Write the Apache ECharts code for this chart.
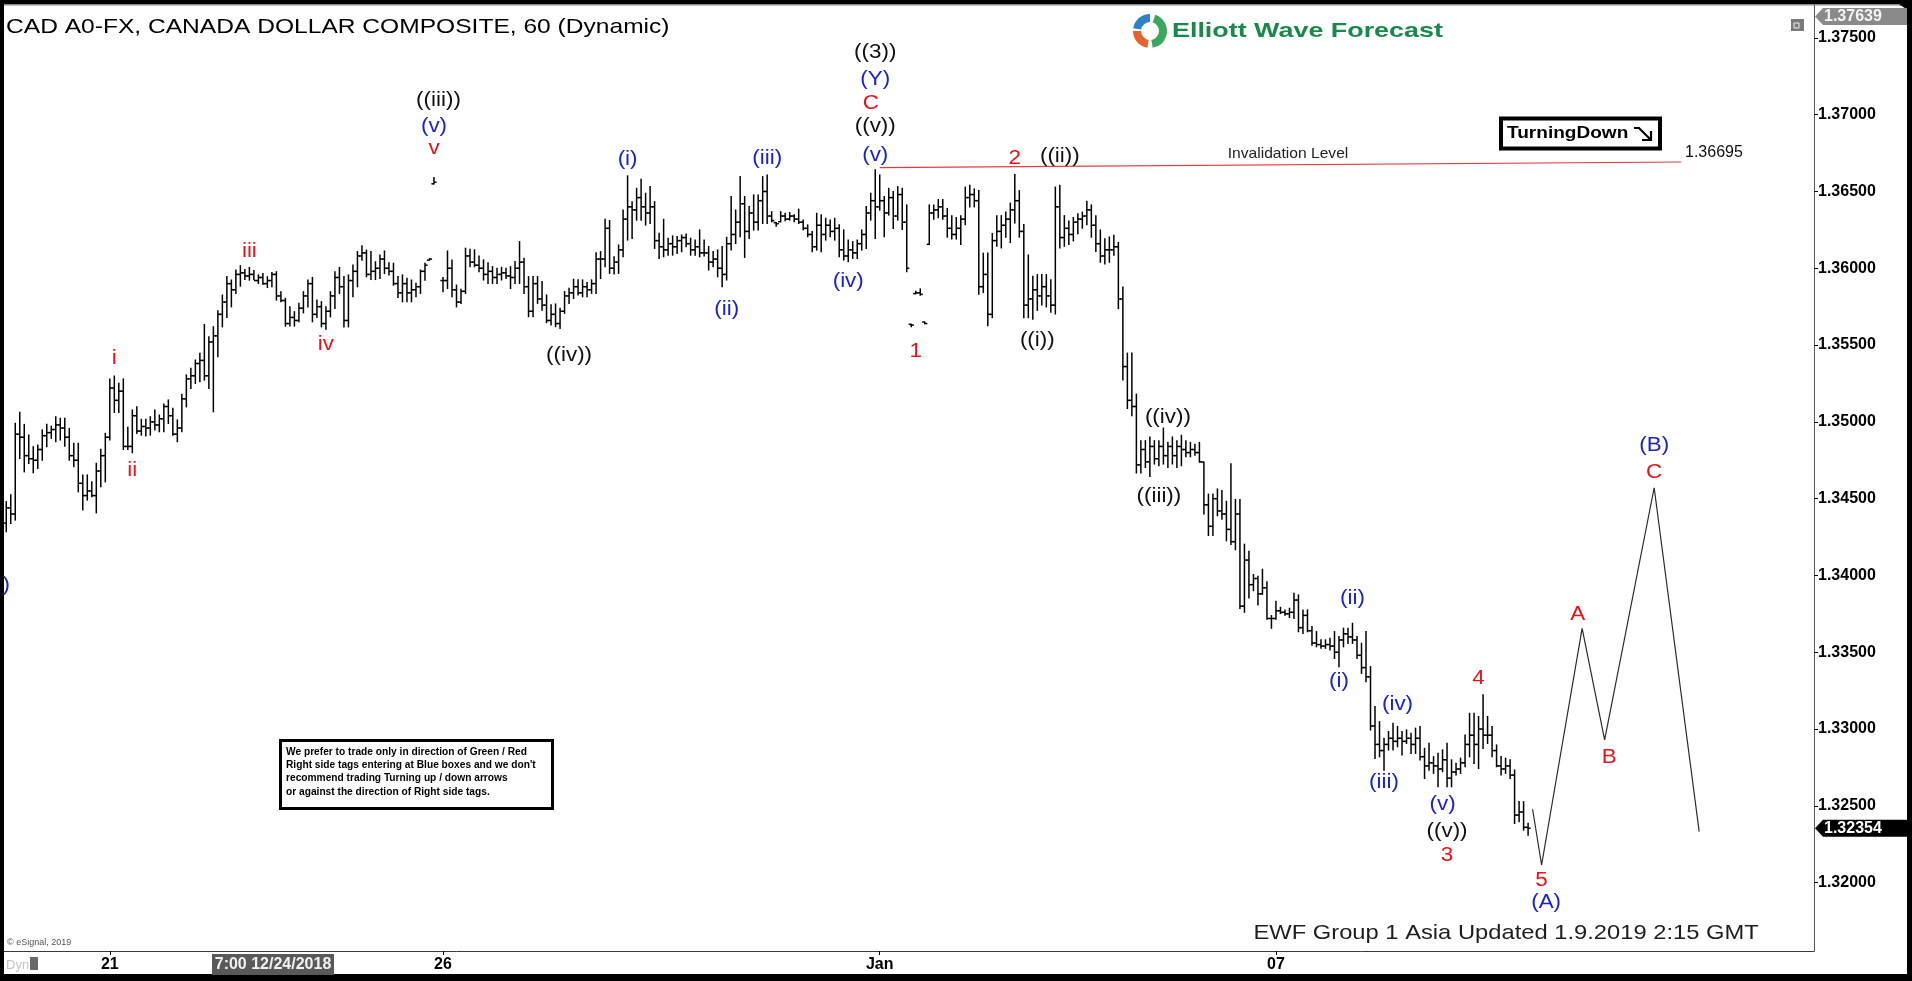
<!DOCTYPE html>
<html>
<head>
<meta charset="utf-8">
<script src="https://cdn.jsdelivr.net/npm/echarts@6/dist/echarts.min.js"></script>
<style>
html, body { margin: 0; padding: 0; background: #000; }
#chart { width: 1912px; height: 981px; }
</style>
</head>
<body>
<div id="chart"></div>
<script>
// hourly bars, CAD A0-FX (null = empty slot)
const highs = [
  1.34480,1.34524,1.34990,1.35062,1.34983,1.34914,1.34838,1.34849,1.34947,1.34983,
  1.34972,1.35033,1.35023,1.35023,1.34957,1.34860,1.34860,1.34654,1.34654,1.34610,
  1.34730,1.34821,1.34925,1.35279,1.35298,1.35250,1.35279,1.34964,1.35077,1.35098,
  1.35016,1.35016,1.35033,1.35077,1.35044,1.35116,1.35142,1.35088,1.35012,1.35179,
  1.35305,1.35348,1.35402,1.35446,1.35634,1.35554,1.35619,1.35723,1.35825,1.35945,
  1.35923,1.35988,1.36016,1.35992,1.36005,1.35984,1.35956,1.35966,1.35945,1.35971,
  1.35977,1.35847,1.35804,1.35749,1.35717,1.35771,1.35847,1.35923,1.35940,1.35793,
  1.35782,1.35749,1.35847,1.35977,1.36005,1.35945,1.35956,1.36021,1.36108,1.36146,
  1.36118,1.36108,1.36042,1.36086,1.36112,1.36036,1.36032,1.35945,1.35956,1.35934,
  1.35923,1.35901,1.35988,1.36032,1.36062,1.36590,null,1.35940,1.36112,1.36053,
  1.35890,1.35863,1.36130,1.36123,1.36119,1.36080,1.36054,1.36036,1.36010,1.35999,
  1.36006,1.35999,1.36010,1.36043,1.36173,1.36065,1.35945,1.35945,1.35945,1.35913,
  1.35826,1.35761,1.35767,1.35739,1.35848,1.35869,1.35928,1.35924,1.35924,1.35906,
  1.35924,1.36101,1.36108,1.36318,1.36310,1.36075,1.36151,1.36379,1.36601,1.36433,
  1.36520,1.36579,1.36488,1.36531,1.36433,1.36227,1.36318,1.36195,1.36210,1.36206,
  1.36216,1.36223,1.36195,1.36184,1.36249,1.36184,1.36141,1.36108,1.36119,1.36141,
  1.36201,1.36466,1.36379,1.36596,1.36466,1.36401,1.36477,1.36477,1.36596,1.36607,
  1.36368,1.36297,1.36368,1.36358,1.36362,1.36347,1.36384,1.36314,1.36282,1.36238,
  1.36358,1.36347,1.36325,1.36314,1.36325,1.36282,1.36249,1.36184,1.36173,1.36184,
  1.36249,1.36401,1.36488,1.36640,1.36607,1.36466,1.36520,1.36499,1.36531,1.36520,
  1.36412,1.35635,1.35850,1.35865,1.35650,1.36412,1.36412,1.36447,1.36447,1.36389,
  1.36342,1.36330,1.36342,1.36528,1.36540,1.36516,1.36505,1.36098,1.36098,1.36226,
  1.36342,1.36342,1.36365,1.36423,1.36609,1.36505,1.36284,1.36086,1.35947,1.35958,
  1.35958,1.35958,1.35924,1.36528,1.36540,1.36342,1.36307,1.36330,1.36354,1.36365,
  1.36435,1.36412,1.36342,1.36249,1.36191,1.36203,1.36214,1.36168,1.35877,1.35447,
  1.35447,1.35180,1.34877,1.34877,1.34901,1.34877,1.34877,1.34959,1.34866,1.34901,
  1.34877,1.34912,1.34877,1.34866,1.34854,1.34866,1.34738,1.34529,1.34529,1.34563,
  1.34552,1.34482,1.34726,1.34494,1.34494,1.34203,1.34157,1.34005,1.33994,1.34040,
  1.33959,1.33738,1.33831,1.33792,1.33775,1.33786,1.33884,1.33873,1.33775,1.33775,
  1.33667,1.33634,1.33580,1.33580,1.33591,1.33634,1.33602,1.33656,1.33656,1.33688,
  1.33602,1.33558,1.33634,1.33406,1.33146,1.33048,1.32940,1.32983,1.33037,1.33016,
  1.32983,1.32994,1.32972,1.33005,1.33016,1.32874,1.32907,1.32820,1.32842,1.32864,
  1.32907,1.32799,1.32777,1.32810,1.32961,1.33102,1.33102,1.33081,1.33222,1.33081,
  1.33016,1.32896,1.32820,1.32810,1.32799,1.32733,1.32527,1.32527,1.32386
]
const lows = [
  1.34285,1.34339,1.34361,1.34762,1.34675,1.34730,1.34669,1.34697,1.34751,1.34838,
  1.34892,1.34871,1.34882,1.34842,1.34751,1.34708,1.34545,1.34426,1.34491,1.34513,
  1.34408,1.34578,1.34610,1.34882,1.35062,1.35062,1.34821,1.34821,1.34799,1.34925,
  1.34914,1.34908,1.34914,1.34947,1.34936,1.34936,1.34990,1.34914,1.34871,1.34936,
  1.35098,1.35218,1.35250,1.35261,1.35272,1.35218,1.35066,1.35424,1.35619,1.35680,
  1.35749,1.35836,1.35884,1.35927,1.35923,1.35927,1.35901,1.35897,1.35875,1.35880,
  1.35793,1.35782,1.35624,1.35624,1.35624,1.35652,1.35710,1.35749,1.35652,1.35680,
  1.35619,1.35604,1.35684,1.35739,1.35836,1.35619,1.35619,1.35815,1.35880,1.36053,
  1.35945,1.35927,1.35927,1.35934,1.35966,1.35956,1.35890,1.35810,1.35782,1.35782,
  1.35782,1.35815,1.35836,1.35923,1.36053,1.36550,null,1.35847,1.35869,1.35815,
  1.35749,1.35772,1.35837,1.36010,1.36010,1.35978,1.35924,1.35902,1.35902,1.35902,
  1.35924,1.35934,1.35869,1.35902,1.35902,1.35837,1.35685,1.35685,1.35772,1.35728,
  1.35646,1.35631,1.35620,1.35609,1.35707,1.35772,1.35804,1.35826,1.35815,1.35815,
  1.35837,1.35837,1.35934,1.36010,1.35967,1.35963,1.35967,1.36075,1.36184,1.36195,
  1.36314,1.36314,1.36282,1.36292,1.36130,1.36065,1.36075,1.36086,1.36086,1.36097,
  1.36108,1.36141,1.36086,1.36086,1.36075,1.36080,1.35989,1.36010,1.35945,1.35880,
  1.35924,1.36119,1.36162,1.36206,1.36071,1.36195,1.36249,1.36249,1.36292,1.36292,
  1.36303,1.36275,1.36303,1.36310,1.36314,1.36303,1.36292,1.36249,1.36206,1.36108,
  1.36119,1.36108,1.36184,1.36206,1.36184,1.36075,1.36054,1.36043,1.36065,1.36065,
  1.36119,1.36130,1.36314,1.36195,1.36379,1.36206,1.36347,1.36260,1.36314,1.36253,
  1.35978,1.35620,1.35835,1.35825,1.35640,1.36156,1.36319,1.36330,1.36319,1.36203,
  1.36191,1.36191,1.36156,1.36284,1.36400,1.36400,1.35831,1.35842,1.35626,1.35679,
  1.36144,1.36133,1.36203,1.36168,1.36296,1.36203,1.35679,1.35679,1.35668,1.35726,
  1.35761,1.35749,1.35714,1.35703,1.36133,1.36144,1.36156,1.36179,1.36226,1.36261,
  1.36284,1.36203,1.36110,1.36040,1.36028,1.36040,1.36086,1.35738,1.35273,1.35087,
  1.35040,1.34668,1.34668,1.34703,1.34645,1.34726,1.34715,1.34726,1.34703,1.34726,
  1.34703,1.34715,1.34773,1.34773,1.34784,1.34738,1.34401,1.34261,1.34261,1.34389,
  1.34366,1.34226,1.34203,1.34168,1.33785,1.33761,1.33854,1.33901,1.33808,1.33878,
  1.33715,1.33657,1.33715,1.33753,1.33742,1.33727,1.33721,1.33634,1.33623,1.33634,
  1.33547,1.33536,1.33526,1.33526,1.33515,1.33460,1.33406,1.33536,1.33558,1.33558,
  1.33460,1.33363,1.33308,1.32994,1.32809,1.32820,1.32733,1.32864,1.32864,1.32885,
  1.32831,1.32907,1.32842,1.32842,1.32799,1.32679,1.32733,1.32712,1.32625,1.32723,
  1.32625,1.32625,1.32701,1.32712,1.32755,1.32820,1.32777,1.32744,1.32874,1.32907,
  1.32820,1.32755,1.32701,1.32712,1.32679,1.32386,1.32397,1.32343,1.32310
]
const closes = [
  1.3444,1.3440,1.3492,1.3490,1.3478,1.3476,1.3475,1.3482,1.3491,1.3493,
  1.3495,1.3498,1.3496,1.3490,1.3478,1.3475,1.3460,1.3452,1.3455,1.3452,
  1.3468,1.3478,1.3490,1.3522,1.3514,1.3520,1.3484,1.3484,1.3504,1.3494,
  1.3497,1.3496,1.3500,1.3498,1.3502,1.3510,1.3504,1.3492,1.3496,1.3515,
  1.3528,1.3530,1.3538,1.3540,1.3530,1.3552,1.3556,1.3570,1.3578,1.3590,
  1.3586,1.3596,1.3597,1.3595,1.3596,1.3592,1.3594,1.3590,1.3592,1.3596,
  1.3582,1.3579,1.3564,1.3568,1.3566,1.3574,1.3582,1.3590,1.3570,1.3575,
  1.3564,1.3572,1.3582,1.3594,1.3588,1.3566,1.3592,1.3598,1.3608,1.3610,
  1.3596,1.3598,1.3600,1.3606,1.3600,1.3598,1.3590,1.3584,1.3590,1.3584,
  1.3586,1.3588,1.3598,1.3602,1.3606,1.3656,null,1.3592,1.3600,1.3586,
  1.3578,1.3585,1.3608,1.3604,1.3602,1.3600,1.3596,1.3598,1.3594,1.3596,
  1.3597,1.3595,1.3594,1.3600,1.3604,1.3588,1.3572,1.3590,1.3580,1.3576,
  1.3566,1.3570,1.3564,1.3572,1.3582,1.3584,1.3588,1.3584,1.3588,1.3586,
  1.3590,1.3606,1.3606,1.3626,1.3600,1.3604,1.3612,1.3632,1.3640,1.3638,
  1.3646,1.3640,1.3636,1.3640,1.3618,1.3614,1.3612,1.3616,1.3614,1.3618,
  1.3620,1.3616,1.3612,1.3614,1.3610,1.3610,1.3604,1.3606,1.3600,1.3596,
  1.3616,1.3622,1.3630,1.3642,1.3624,1.3636,1.3630,1.3644,1.3650,1.3634,
  1.3631,1.3629,1.3634,1.3632,1.3634,1.3632,1.3630,1.3626,1.3622,1.3614,
  1.3628,1.3622,1.3628,1.3624,1.3626,1.3612,1.3608,1.3612,1.3610,1.3616,
  1.3622,1.3636,1.3644,1.3640,1.3644,1.3636,1.3646,1.3634,1.3648,1.3630,
  1.3600,1.3563,1.3584,1.3583,1.3564,1.3636,1.3638,1.3640,1.3634,1.3626,
  1.3622,1.3626,1.3632,1.3646,1.3648,1.3644,1.3588,1.3596,1.3570,1.3618,
  1.3624,1.3628,1.3632,1.3638,1.3644,1.3624,1.3576,1.3580,1.3586,1.3582,
  1.3588,1.3582,1.3576,1.3640,1.3620,1.3626,1.3622,1.3630,1.3632,1.3634,
  1.3638,1.3628,1.3616,1.3608,1.3612,1.3612,1.3614,1.3580,1.3536,1.3514,
  1.3510,1.3472,1.3482,1.3474,1.3484,1.3476,1.3484,1.3478,1.3484,1.3478,
  1.3484,1.3482,1.3480,1.3482,1.3480,1.3474,1.3446,1.3432,1.3450,1.3442,
  1.3440,1.3430,1.3422,1.3440,1.3380,1.3410,1.3394,1.3398,1.3388,1.3392,
  1.3372,1.3372,1.3377,1.3376,1.3375,1.3376,1.3384,1.3366,1.3374,1.3364,
  1.3356,1.3355,1.3354,1.3355,1.3354,1.3350,1.3358,1.3362,1.3360,1.3358,
  1.3348,1.3340,1.3334,1.3302,1.3290,1.3286,1.3290,1.3294,1.3292,1.3294,
  1.3292,1.3294,1.3290,1.3294,1.3282,1.3276,1.3278,1.3276,1.3274,1.3280,
  1.3268,1.3272,1.3274,1.3278,1.3290,1.3296,1.3290,1.3300,1.3296,1.3296,
  1.3286,1.3276,1.3274,1.3276,1.3270,1.3244,1.3246,1.3236,1.32354
]
const firstOpen = 1.34341

// x axis: hourly slots, date ticks
const slotCount = 402
const tickIdx = [23, 97, 194, 282]
const tickText = ['21', '26', 'Jan', '07']

// y axis range
const yMin = 1.31555
const yMax = 1.37714
const highMark = 1.37639

// projected path and invalidation line
const projIdx = [339, 341, 350, 355, 366, 376]
const projPrice = [1.32478, 1.32115, 1.33656, 1.32929, 1.34571, 1.32332]
const invalidIdx = [194, 372]
const invalidPrice = [1.36655, 1.36692]
const invalidLevel = '1.36695'

// wave labels: text, slot, price, colour key
const waveLabels = [
  ['((iii))', 96, 1.37095, 'k'], ['(v)', 95, 1.36921, 'b'], ['v', 95, 1.36777, 'r'],
  ['i', 24, 1.35414, 'r'], ['ii', 28, 1.34686, 'r'], ['iii', 54, 1.36112, 'r'], ['iv', 71, 1.35507, 'r'],
  ['((iv))', 125, 1.35429, 'k'],
  ['(i)', 138, 1.36709, 'b'], ['(ii)', 160, 1.35733, 'b'], ['(iii)', 169, 1.36716, 'b'],
  ['(iv)', 187, 1.35917, 'b'], ['(v)', 193, 1.36737, 'b'],
  ['((v))', 193, 1.36921, 'k'], ['C', 192, 1.37072, 'r'], ['(Y)', 193, 1.37230, 'b'], ['((3))', 193, 1.37405, 'k'],
  ['1', 202, 1.35459, 'r'], ['2', 224, 1.36714, 'r'], ['((ii))', 234, 1.36725, 'k'], ['((i))', 229, 1.35533, 'k'],
  ['((iv))', 258, 1.35028, 'k'], ['((iii))', 256, 1.34517, 'k'],
  ['(i)', 296, 1.33308, 'b'], ['(ii)', 299, 1.33851, 'b'], ['(iii)', 306, 1.32653, 'b'],
  ['(iv)', 309, 1.33157, 'b'], ['(v)', 319, 1.32512, 'b'], ['((v))', 320, 1.32332, 'k'], ['3', 320, 1.32180, 'r'],
  ['4', 327, 1.33330, 'r'], ['5', 341, 1.32017, 'r'], ['(A)', 342, 1.31870, 'b'],
  ['A', 349, 1.33749, 'r'], ['B', 356, 1.32813, 'r'], ['C', 366, 1.34673, 'r'], ['(B)', 366, 1.34849, 'b'],
  [')', 0, 1.33935, 'b']
]

const F = "Arial, 'Liberation Sans', sans-serif"
const waveColor = { r: '#e3141b', b: '#1b24c8', k: '#111111' }

const cats = Array.from({ length: slotCount }, (_, i) => {
  const k = tickIdx.indexOf(i)
  return k >= 0 ? tickText[k] : ''
})
const showTick = (i) => tickIdx.includes(i)

// bars: [slot, open, high, low, close]; open taken from previous close
const bars = []
highs.forEach((h, i) => {
  if (h == null) return
  let o = i === 0 ? firstOpen : closes[i - 1]
  if (o == null) o = closes[i]
  o = Math.min(h, Math.max(lows[i], o))
  bars.push([i, o, h, lows[i], closes[i]])
})

function renderOhlc (params, api) {
  const i = api.value(0)
  const top = api.coord([i, api.value(2)])
  const bot = api.coord([i, api.value(3)])
  const o = api.coord([i, api.value(1)])
  const c = api.coord([i, api.value(4)])
  const x = top[0]
  const s = { stroke: '#000', lineWidth: 1.5 }
  return {
    type: 'group',
    children: [
      { type: 'line', shape: { x1: x, y1: top[1] - 0.6, x2: x, y2: bot[1] + 0.6 }, style: s },
      { type: 'line', shape: { x1: x - 2.6, y1: o[1], x2: x, y2: o[1] }, style: s },
      { type: 'line', shape: { x1: x, y1: c[1], x2: x + 2.6, y2: c[1] }, style: s }
    ]
  }
}

function renderWave (params, api) {
  const w = waveLabels[params.dataIndex]
  const p = api.coord([api.value(0), api.value(1)])
  return {
    type: 'text',
    x: p[0],
    y: p[1],
    scaleX: 1.12,
    style: {
      text: w[0], fill: waveColor[w[3]], font: '20px ' + F,
      align: 'center', verticalAlign: 'middle', textAlign: 'center', textVerticalAlign: 'middle'
    }
  }
}

function txt (x, y, text, font, fill, extra) {
  return Object.assign({
    type: 'text', x: x, y: y,
    style: { text: text, font: font, fill: fill, textVerticalAlign: 'middle', verticalAlign: 'middle' }
  }, extra || {})
}

const noteLines = [
  'We prefer to trade only in direction of Green / Red',
  "Right side tags entering at Blue boxes and we don't",
  'recommend trading Turning up / down arrows',
  'or against the direction of Right side tags.'
]

const graphics = [
  { type: 'rect', z: -100, shape: { x: 4, y: 5, width: 1903, height: 969, r: [0, 9, 0, 0] }, style: { fill: '#fff' } },
  { type: 'rect', z: -99, shape: { x: 4, y: 4, width: 1896, height: 1.5 }, style: { fill: '#8c8c8c' } },
  txt(6, 27, 'CAD A0-FX, CANADA DOLLAR COMPOSITE, 60 (Dynamic)', '21px ' + F, '#000', { scaleX: 1.17 }),
  // logo
  {
    type: 'group', x: 1150, y: 31,
    children: [
      { type: 'sector', shape: { cx: 0, cy: 0, r0: 9, r: 17, startAngle: Math.PI * 0.55, endAngle: Math.PI * 1.0 }, style: { fill: '#e9612c' } },
      { type: 'sector', shape: { cx: 0, cy: 0, r0: 9, r: 17, startAngle: Math.PI * 1.05, endAngle: Math.PI * 1.5 }, style: { fill: '#2d82c6' } },
      { type: 'sector', shape: { cx: 0, cy: 0, r0: 9, r: 17, startAngle: Math.PI * 1.6, endAngle: Math.PI * 2.45 }, style: { fill: '#3aa85a' } }
    ]
  },
  txt(1172, 31, 'Elliott Wave Forecast', 'bold 21px ' + F, '#19894b', { scaleX: 1.28 }),
  // window icon
  { type: 'rect', shape: { x: 1791, y: 19, width: 13, height: 12 }, style: { fill: '#7a7a7a' } },
  { type: 'rect', shape: { x: 1794, y: 23, width: 5, height: 5 }, style: { fill: 'none', stroke: '#eee', lineWidth: 1 } },
  // turning down box
  { type: 'rect', shape: { x: 1501, y: 118.5, width: 159, height: 30 }, style: { fill: '#fff', stroke: '#000', lineWidth: 4 } },
  txt(1507, 134, 'TurningDown', 'bold 16px ' + F, '#000', { scaleX: 1.19 }),
  { type: 'polyline', shape: { points: [[1634, 128], [1639, 128], [1650, 139]] }, style: { stroke: '#000', lineWidth: 2.2, fill: 'none' } },
  { type: 'polyline', shape: { points: [[1651, 131], [1651, 140], [1642, 140]] }, style: { stroke: '#000', lineWidth: 2.2, fill: 'none' } },
  // invalidation texts
  txt(1288, 154, 'Invalidation Level', '15px ' + F, '#222', { scaleX: 1.04, style: { text: 'Invalidation Level', font: '15px ' + F, fill: '#222', textAlign: 'center', align: 'center', textVerticalAlign: 'middle', verticalAlign: 'middle' } }),
  txt(1685, 153, invalidLevel, '16px ' + F, '#111'),
  // note box
  { type: 'rect', shape: { x: 280.5, y: 740.5, width: 272, height: 68 }, style: { fill: '#fff', stroke: '#000', lineWidth: 3 } },
  ...noteLines.map((t, k) => txt(286, 752 + k * 13.3, t, 'bold 10.5px ' + F, '#000', { scaleX: 0.97 })),
  // bottom texts
  txt(1253.5, 933, 'EWF Group 1 Asia Updated 1.9.2019 2:15 GMT', '21px ' + F, '#1e1e1e', {
    scaleX: 1.13,
    style: { text: 'EWF Group 1 Asia Updated 1.9.2019 2:15 GMT', font: '21px ' + F, fill: '#1e1e1e', textVerticalAlign: 'middle', verticalAlign: 'middle', shadowColor: 'rgba(0,0,0,0.45)', shadowBlur: 2, shadowOffsetX: 1.5, shadowOffsetY: 1.5 }
  }),
  txt(7, 943, '\u00a9 eSignal, 2019', '9px ' + F, '#555'),
  txt(6, 965, 'Dyn', '13px ' + F, '#c4c4c4'),
  { type: 'rect', shape: { x: 30, y: 957, width: 8, height: 13 }, style: { fill: '#6a6a6a' } },
  { type: 'rect', shape: { x: 212, y: 954, width: 122, height: 21 }, style: { fill: '#595959' } },
  txt(273, 965, '7:00 12/24/2018', 'bold 16px ' + F, '#f2f2f2', { style: { text: '7:00 12/24/2018', font: 'bold 16px ' + F, fill: '#f2f2f2', textAlign: 'center', align: 'center', textVerticalAlign: 'middle', verticalAlign: 'middle' } })
]

const chart = echarts.init(document.getElementById('chart'), null, { renderer: 'canvas' })
const option = {
  backgroundColor: '#000',
  animation: false,
  textStyle: { fontFamily: F },
  grid: { left: 4, top: 5, right: 98, bottom: 30, containLabel: false },
  xAxis: {
    type: 'category',
    data: cats,
    boundaryGap: true,
    axisLine: { show: true, lineStyle: { color: '#3a3a3a', width: 1 } },
    axisTick: { show: true, alignWithLabel: true, interval: showTick, length: 4, lineStyle: { color: '#000' } },
    axisLabel: { interval: showTick, color: '#000', fontWeight: 'bold', fontSize: 16, margin: 6, fontFamily: F },
    splitLine: { show: false }
  },
  yAxis: {
    type: 'value',
    position: 'right',
    min: yMin,
    max: yMax,
    splitNumber: 12,
    axisLine: { show: true, lineStyle: { color: '#555' } },
    axisTick: { show: true, length: 4, lineStyle: { color: '#000' } },
    axisLabel: {
      color: '#000', fontWeight: 'bold', fontSize: 16, margin: 4, fontFamily: F,
      showMinLabel: false, showMaxLabel: false,
      formatter: v => v.toFixed(5)
    },
    splitLine: { show: false }
  },
  series: [
    {
      type: 'line',
      data: invalidIdx.map((x, k) => [x, invalidPrice[k]]),
      symbol: 'none',
      lineStyle: { color: '#e2393b', width: 1.2 },
      silent: true,
      z: 2
    },
    {
      type: 'custom',
      renderItem: renderOhlc,
      data: bars,
      encode: { x: 0, y: [1, 2, 3, 4] },
      silent: true,
      z: 3
    },
    {
      type: 'line',
      data: projIdx.map((x, k) => [x, projPrice[k]]),
      symbol: 'none',
      lineStyle: { color: '#2b2b2b', width: 1.2 },
      silent: true,
      z: 3
    },
    {
      type: 'custom',
      renderItem: renderWave,
      data: waveLabels.map(w => [w[1], w[2]]),
      encode: { x: 0, y: 1 },
      silent: true,
      z: 5
    }
  ],
  graphic: graphics
}
chart.setOption(option)

// price tags on the right axis
function priceTag (price, fill, color) {
  const y = chart.convertToPixel({ yAxisIndex: 0 }, price)
  return [
    { type: 'polygon', shape: { points: [[1815, y], [1823, y - 8.5], [1907, y - 8.5], [1907, y + 8.5], [1823, y + 8.5]] }, style: { fill: fill } },
    txt(1824, y, price.toFixed(5), 'bold 16px ' + F, color)
  ]
}
chart.setOption({
  graphic: graphics.concat(
    priceTag(highMark, '#8a8a8a', '#f4f4f4'),
    priceTag(closes[closes.length - 1], '#000', '#fff')
  )
})
</script>
</body>
</html>
